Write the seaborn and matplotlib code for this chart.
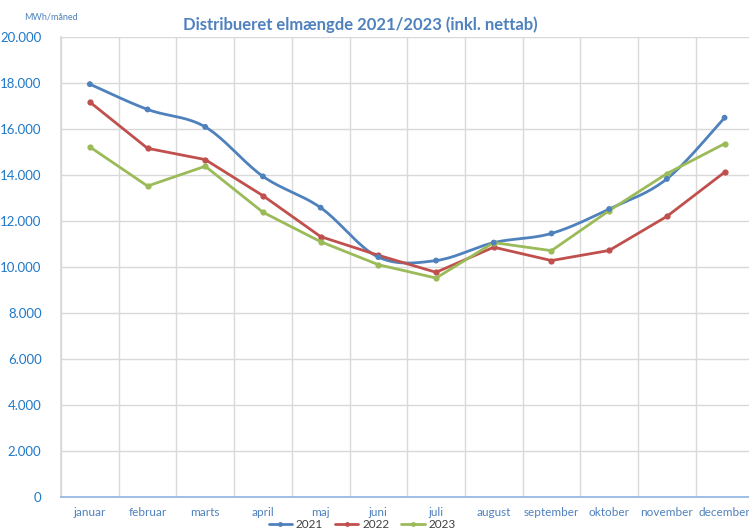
import numpy as np
import pandas as pd
import matplotlib
matplotlib.use("Agg")
import matplotlib.pyplot as plt
import seaborn as sns
from matplotlib.lines import Line2D

months = ["januar", "februar", "marts", "april", "maj", "juni", "juli",
          "august", "september", "oktober", "november", "december"]
v2021 = [17950, 16850, 16090, 13940, 12580, 10430, 10280, 11060, 11460, 12520, 13830, 16490]
v2022 = [17170, 15160, 14670, 13100, 11320, 10510, 9770, 10860, 10280, 10720, 12200, 14120]
v2023 = [15220, 13520, 14380, 12380, 11100, 10100, 9520, 11060, 10710, 12450, 14060, 15360]
years = ["2021", "2022", "2023"]
yticks = [0, 2000, 4000, 6000, 8000, 10000, 12000, 14000, 16000, 18000, 20000]
ytick_labels = ["0", "2.000", "4.000", "6.000", "8.000", "10.000", "12.000",
                "14.000", "16.000", "18.000", "20.000"]

colors = {"2021": "#4F81BD", "2022": "#C0504D", "2023": "#9BBB59"}

rows = []
for yr, vals in zip(years, [v2021, v2022, v2023]):
    for i, (m, v) in enumerate(zip(months, vals)):
        rows.append({"year": yr, "idx": i, "month": m, "value": v})
df = pd.DataFrame(rows)

sns.set_theme(style="white")
plt.rcParams["font.family"] = ["Lato", "DejaVu Sans"]

fig = plt.figure(figsize=(7.49, 5.32), dpi=100)
ax = fig.add_axes([61 / 749, 35 / 532, 692.4 / 749, 460 / 532])


def catmull(x, y, n=20):
    x = np.asarray(x, float)
    y = np.asarray(y, float)
    px = np.concatenate([[x[0]], x, [x[-1]]])
    py = np.concatenate([[y[0]], y, [y[-1]]])
    xs, ys = [], []
    t = np.linspace(0, 1, n)
    for i in range(1, len(px) - 2):
        p0x, p1x, p2x, p3x = px[i - 1], px[i], px[i + 1], px[i + 2]
        p0y, p1y, p2y, p3y = py[i - 1], py[i], py[i + 1], py[i + 2]
        c1x = p1x + (p2x - p0x) / 6
        c1y = p1y + (p2y - p0y) / 6
        c2x = p2x - (p3x - p1x) / 6
        c2y = p2y - (p3y - p1y) / 6
        bx = (1 - t) ** 3 * p1x + 3 * (1 - t) ** 2 * t * c1x + 3 * (1 - t) * t ** 2 * c2x + t ** 3 * p2x
        by = (1 - t) ** 3 * p1y + 3 * (1 - t) ** 2 * t * c1y + 3 * (1 - t) * t ** 2 * c2y + t ** 3 * p2y
        xs.append(bx)
        ys.append(by)
    return np.concatenate(xs), np.concatenate(ys)


# 2021: smoothed line
d21 = df[df.year == "2021"]
sx, sy = catmull(d21.idx.values, d21.value.values)
ax.plot(sx, sy, color=colors["2021"], lw=2.0, solid_capstyle="round", zorder=3)
sns.scatterplot(data=d21, x="idx", y="value", color=colors["2021"], s=18,
                edgecolor="none", ax=ax, legend=False, zorder=4)

# 2022, 2023: straight lines
d_other = df[df.year != "2021"]
sns.lineplot(data=d_other, x="idx", y="value", hue="year",
             palette={k: colors[k] for k in ["2022", "2023"]},
             marker="o", markersize=4.5, markeredgewidth=0, lw=2.0,
             ax=ax, legend=False, zorder=3)

ax.set_xlim(-0.5, 11.5)
ax.set_ylim(0, 20000)
ax.set_xticks(range(12))
ax.set_xticklabels(months, color="#4F81BD", fontsize=8.5)
ax.set_xticks(np.arange(-0.5, 12, 1), minor=True)
ax.set_yticks(yticks)
ax.set_yticklabels(ytick_labels, color="#1F78C8", fontsize=9.5)
ax.tick_params(axis="both", which="both", length=0)
ax.tick_params(axis="x", pad=7)
ax.tick_params(axis="y", pad=14)
ax.grid(False)
ax.yaxis.grid(True, color="#D9D9D9", lw=1)
ax.xaxis.grid(True, which="minor", color="#D9D9D9", lw=1)
ax.set_axisbelow(True)
ax.set_xlabel("")
ax.set_ylabel("")
for s in ["top", "right"]:
    ax.spines[s].set_visible(False)
ax.spines["left"].set_color("#D9D9D9")
ax.spines["bottom"].set_color("#8EB4E3")
ax.spines["bottom"].set_linewidth(1.2)

fig.text(360 / 749, 1 - 25 / 532, "Distribueret elmængde 2021/2023 (inkl. nettab)",
         ha="center", va="center", fontsize=12, fontweight="bold", color="#4F81BD")
fig.text(24 / 749, 1 - 17 / 532, "MWh/måned", ha="left", va="center",
         fontsize=6.5, color="#4F81BD")

handles = [Line2D([0], [0], color=colors[y], lw=2, marker="o", markersize=3.5,
                  markeredgewidth=0) for y in years]
fig.legend(handles, years, loc="center", bbox_to_anchor=(362 / 749, 1 - 525 / 532),
           ncol=3, frameon=False, fontsize=8.5, handlelength=2.0,
           columnspacing=1.0, handletextpad=0.3, labelcolor="#404040")

fig.savefig("out.png", dpi=100)
